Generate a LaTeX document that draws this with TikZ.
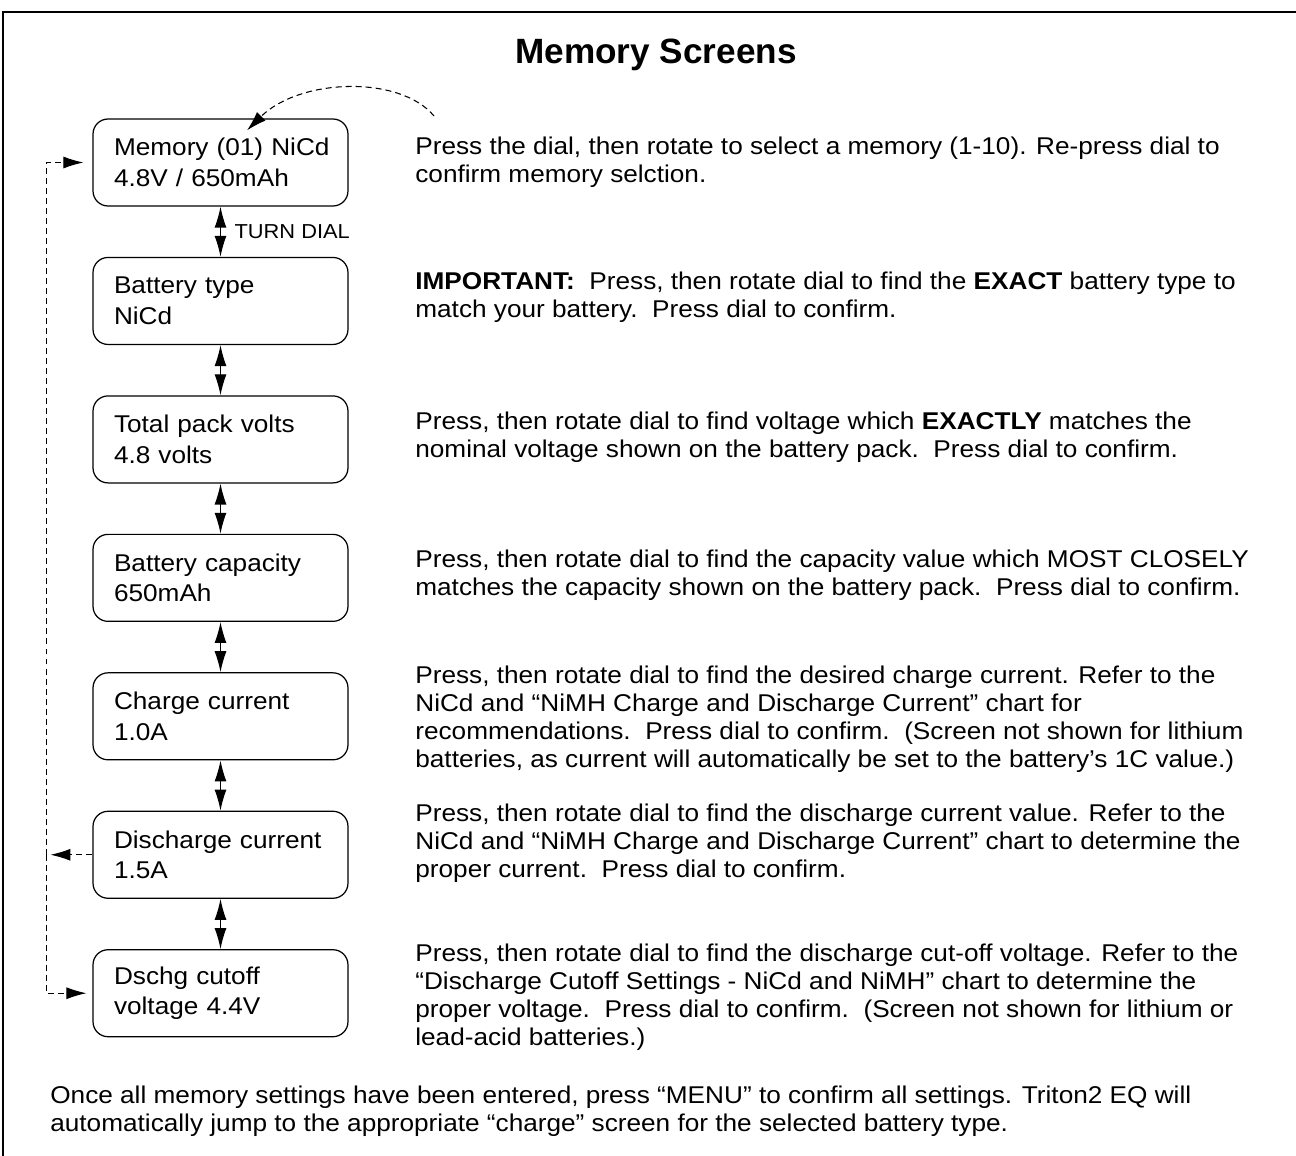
\documentclass[tikz,border=0pt]{standalone}
\usepackage{fontspec}
\setmainfont{Liberation Sans}[FakeStretch=1.08]
\newfontfamily\headfont{Liberation Sans}
\usetikzlibrary{arrows.meta,positioning}

\begin{document}
\begin{tikzpicture}[x=0.02cm,y=-0.02cm,
  scr/.style={draw,line width=0.7pt,rounded corners=0.3cm,minimum height=1.74cm,
    text width=4.26cm,inner xsep=0.42cm,align=left,font=\fontsize{13.8}{17.5}\selectfont},
  desc/.style={anchor=west,inner sep=0pt,align=left,font=\fontsize{13.8}{16}\selectfont},
  dial/.style={line width=0.7pt,{Latex[length=4.2mm,width=2.4mm]}-{Latex[length=4.2mm,width=2.4mm]}},
  back/.style={line width=0.6pt,dash pattern=on 3.4pt off 2.3pt,-{Latex[length=4mm,width=2.4mm]}}]
\useasboundingbox (0,0) rectangle (1296,1156);
\draw[line width=1.1pt] (3,1156) -- (3,12) -- (1296,12);
\node[font=\headfont\fontsize{20}{24}\selectfont\bfseries] (title) at (656,55) {Memory Screens};

\node[scr] (mem) at (220.5,162.5) {Memory~(01)~NiCd\\4.8V / 650mAh};
\node[scr,below=1.005cm of mem] (type) {Battery type\\NiCd};
\node[scr,below=1.005cm of type] (volts) {Total pack volts\\4.8 volts};
\node[scr,below=1.005cm of volts] (cap) {Battery capacity\\650mAh};
\node[scr,below=1.005cm of cap] (chg) {Charge current\\1.0A};
\node[scr,below=1.005cm of chg] (dis) {Discharge current\\1.5A};
\node[scr,below=1.005cm of dis] (cut) {Dschg cutoff\\voltage 4.4V};

\draw[dial] (mem) -- node[right,inner sep=0pt,xshift=0.27cm,font=\fontsize{11.5}{13}\selectfont] {TURN DIAL} (type);
\draw[dial] (type) -- (volts);
\draw[dial] (volts) -- (cap);
\draw[dial] (cap) -- (chg);
\draw[dial] (chg) -- (dis);
\draw[dial] (dis) -- (cut);

\path (dis.west) ++(-46,0) coordinate (split);
\draw[back,shorten >=0.08cm] (dis.west) -- (split);
\draw[back,shorten >=0.18cm] (split) |- (mem.west);
\draw[back,shorten >=0.12cm] (split) |- (cut.west);

\coordinate (press) at (434,116);
\draw[back] (press) .. controls (400,75) and (300,78) .. ([shift={(26.5,12)}]mem.north);

\node[desc] (memtxt) at (415,162.5) {Press the dial, then rotate to select a memory (1-10). Re-press dial to\\confirm memory selction.};
\node[desc] (typetxt) at (415,297.5) {\textbf{IMPORTANT:}\ \ Press, then rotate dial to find the \textbf{EXACT} battery type to\\match your battery.\ \ Press dial to confirm.};
\node[desc] (voltstxt) at (415,437.5) {Press, then rotate dial to find voltage which \textbf{EXACTLY} matches the\\nominal voltage shown on the battery pack.\ \ Press dial to confirm.};
\node[desc] (captxt) at (415,575.5) {Press, then rotate dial to find the capacity value which MOST CLOSELY\\matches the capacity shown on the battery pack.\ \ Press dial to confirm.};
\node[desc] (chgtxt) at (415,719.5) {Press, then rotate dial to find the desired charge current. Refer to the\\NiCd and “NiMH Charge and Discharge Current” chart for\\recommendations.\ \ Press dial to confirm.\ \ (Screen not shown for lithium\\batteries, as current will automatically be set to the battery’s 1C value.)};
\node[desc] (distxt) at (415,843) {Press, then rotate dial to find the discharge current value. Refer to the\\NiCd and “NiMH Charge and Discharge Current” chart to determine the\\proper current.\ \ Press dial to confirm.};
\node[desc] (cuttxt) at (415,997.5) {Press, then rotate dial to find the discharge cut-off voltage. Refer to the\\“Discharge Cutoff Settings - NiCd and NiMH” chart to determine the\\proper voltage.\ \ Press dial to confirm.\ \ (Screen not shown for lithium or\\lead-acid batteries.)};

\node[desc] (note) at (50,1111) {Once all memory settings have been entered, press “MENU” to confirm all settings. Triton2 EQ will\\automatically jump to the appropriate “charge” screen for the selected battery type.};
\end{tikzpicture}
\end{document}
